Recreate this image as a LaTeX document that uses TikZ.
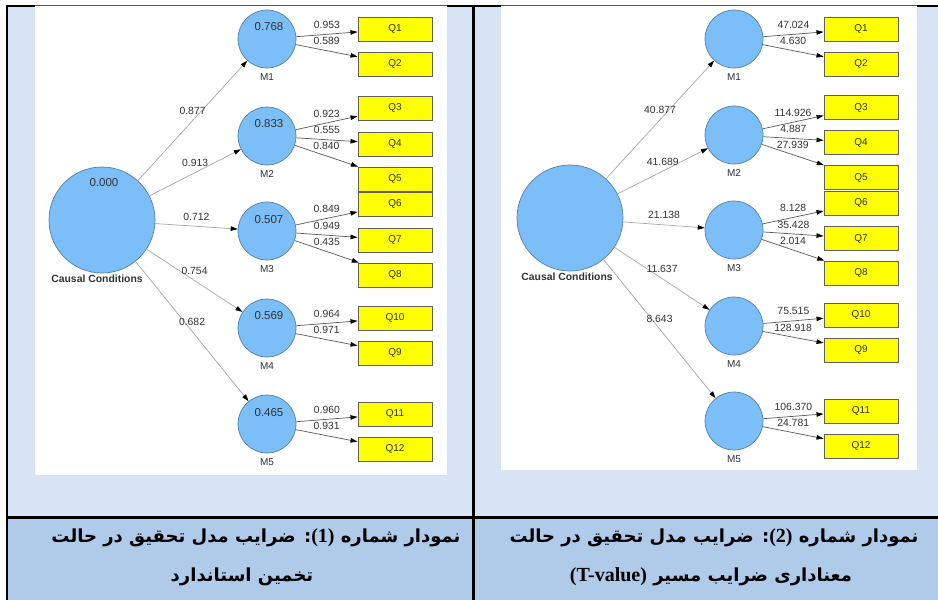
\documentclass[tikz,border=0pt]{standalone}
\usepackage{fontspec}
\setmainfont{Liberation Sans}
\newfontfamily\arabicfont[Script=Arabic]{DejaVu Sans}
\newfontfamily\serifbold{Liberation Serif}
\TeXXeTstate=1
\usetikzlibrary{arrows.meta,calc}

\definecolor{cellblue}{HTML}{D6E4F3}
\definecolor{capblue}{HTML}{AFCBE9}
\definecolor{latent}{HTML}{7CBEF8}
\definecolor{latentedge}{HTML}{557FA8}
\definecolor{itemfill}{HTML}{FFFF00}
\definecolor{itemedge}{HTML}{606060}
\definecolor{labeltext}{HTML}{333333}
\definecolor{framegray}{HTML}{555A60}

\tikzset{
  latentbig/.style={circle, draw=latentedge, fill=latent, line width=0.7pt,
    minimum size=106pt, inner sep=0pt},
  latentsmall/.style={circle, draw=latentedge, fill=latent, line width=0.7pt,
    minimum size=58pt, inner sep=0pt},
  itembox/.style={rectangle, draw=itemedge, fill=itemfill, line width=0.9pt,
    minimum width=74pt, minimum height=24pt, inner sep=0pt,
    font=\fontsize{10}{12}\selectfont, text=labeltext},
  structpath/.style={draw=gray!70, line width=0.7pt,
    -{Triangle[length=7pt,width=4.5pt,color=black]}},
  measpath/.style={draw=black!65, line width=0.7pt,
    -{Triangle[length=7pt,width=4.5pt,color=black]}},
  coef/.style={above=5.5pt, inner sep=0pt, font=\fontsize{10.4}{12}\selectfont,
    text=labeltext},
  innerval/.style={inner sep=0pt, font=\fontsize{11.5}{13}\selectfont, text=labeltext},
  mtag/.style={inner sep=0pt, font=\fontsize{10}{12}\selectfont, text=labeltext},
  cctag/.style={inner sep=0pt, font=\bfseries\fontsize{10.4}{12}\selectfont, text=labeltext},
  captext/.style={inner sep=0pt, font=\arabicfont\bfseries\fontsize{18}{21}\selectfont},
  diagram/.style={fill=white},
}

\begin{document}
\begin{tikzpicture}[x=1pt,y=-1pt]
\useasboundingbox (0,0) rectangle (938,600);

% table cells
\fill[cellblue] (8,6) rectangle (938,517);
\fill[capblue] (8,517) rectangle (938,600);
\draw[black, line width=2pt] (7,5.5) -- (938,5.5);

% pasted diagram areas
\fill[diagram] (35,5) rectangle (447,475);
\fill[diagram] (501,5) rectangle (917,470);
\draw[framegray, line width=1.3pt] (35,5.5) -- (447,5.5);
\draw[framegray, line width=1.3pt] (501,5.5) -- (917,5.5);

% table rules
\draw[black, line width=2.5pt] (7,4.5) -- (7,600);
\draw[black, line width=3pt] (473.8,4.5) -- (473.8,600);
\draw[black, line width=2.7pt] (7,517.3) -- (938,517.3);

% ---------- standardised estimates ----------
\node[latentbig] (LCC) at (102,220) {};
\node[innerval] (LCCv) at (104,183) {0.000};
\node[cctag] (LCCt) at (97,279) {Causal Conditions};

\node[latentsmall] (LM1) at (267,39) {};
\node[latentsmall] (LM2) at (267,136) {};
\node[latentsmall] (LM3) at (267,231) {};
\node[latentsmall] (LM4) at (267,328) {};
\node[latentsmall] (LM5) at (267,424) {};
\node[innerval] (LM1v) at (269,27) {0.768};
\node[innerval] (LM2v) at (269,124) {0.833};
\node[innerval] (LM3v) at (269,220) {0.507};
\node[innerval] (LM4v) at (269,316) {0.569};
\node[innerval] (LM5v) at (269,413) {0.465};
\node[mtag] (LM1t) at (267,77) {M1};
\node[mtag] (LM2t) at (267,174) {M2};
\node[mtag] (LM3t) at (267,269) {M3};
\node[mtag] (LM4t) at (267,366) {M4};
\node[mtag] (LM5t) at (267,462) {M5};

\node[itembox] (LQ1) at (395,29) {Q1};
\node[itembox] (LQ2) at (395,64) {Q2};
\node[itembox] (LQ3) at (395,108) {Q3};
\node[itembox] (LQ4) at (395,144) {Q4};
\node[itembox] (LQ5) at (395,179) {Q5};
\node[itembox] (LQ6) at (395,204) {Q6};
\node[itembox] (LQ7) at (395,240) {Q7};
\node[itembox] (LQ8) at (395,275) {Q8};
\node[itembox] (LQ10) at (395,318) {Q10};
\node[itembox] (LQ9) at (395,353) {Q9};
\node[itembox] (LQ11) at (395,414) {Q11};
\node[itembox] (LQ12) at (395,449) {Q12};

\draw[structpath] (LCC) -- node[coef] {0.877} (LM1);
\draw[structpath] (LCC) -- node[coef] {0.913} (LM2);
\draw[structpath] (LCC) -- node[coef] {0.712} (LM3);
\draw[structpath] (LCC) -- node[coef] {0.754} (LM4);
\draw[structpath] (LCC) -- node[coef] {0.682} (LM5);

\draw[measpath] (LM1) -- node[coef] {0.953} (LQ1);
\draw[measpath] (LM1) -- node[coef] {0.589} (LQ2);
\draw[measpath] (LM2) -- node[coef] {0.923} (LQ3);
\draw[measpath] (LM2) -- node[coef] {0.555} (LQ4);
\draw[measpath] (LM2) -- node[coef] {0.840} (LQ5);
\draw[measpath] (LM3) -- node[coef] {0.849} (LQ6);
\draw[measpath] (LM3) -- node[coef] {0.949} (LQ7);
\draw[measpath] (LM3) -- node[coef] {0.435} (LQ8);
\draw[measpath] (LM4) -- node[coef] {0.964} (LQ10);
\draw[measpath] (LM4) -- node[coef] {0.971} (LQ9);
\draw[measpath] (LM5) -- node[coef] {0.960} (LQ11);
\draw[measpath] (LM5) -- node[coef] {0.931} (LQ12);

% ---------- t-values ----------
\begin{scope}[shift={(467,-2)}]
\node[latentbig] (RCC) at (103,220) {};
\node[cctag] (RCCt) at (100,279) {Causal Conditions};

\node[latentsmall] (RM1) at (267,41) {};
\node[latentsmall] (RM2) at (267,137) {};
\node[latentsmall] (RM3) at (267,232) {};
\node[latentsmall] (RM4) at (267,328) {};
\node[latentsmall] (RM5) at (267,423) {};
\node[mtag] (RM1t) at (267,79) {M1};
\node[mtag] (RM2t) at (267,175) {M2};
\node[mtag] (RM3t) at (267,270) {M3};
\node[mtag] (RM4t) at (267,366) {M4};
\node[mtag] (RM5t) at (267,461) {M5};

\node[itembox] (RQ1) at (394,31) {Q1};
\node[itembox] (RQ2) at (394,66) {Q2};
\node[itembox] (RQ3) at (394,109.5) {Q3};
\node[itembox] (RQ4) at (394,144.5) {Q4};
\node[itembox] (RQ5) at (394,179.5) {Q5};
\node[itembox] (RQ6) at (394,205) {Q6};
\node[itembox] (RQ7) at (394,240.5) {Q7};
\node[itembox] (RQ8) at (394,275) {Q8};
\node[itembox] (RQ10) at (394,317) {Q10};
\node[itembox] (RQ9) at (394,352) {Q9};
\node[itembox] (RQ11) at (394,413) {Q11};
\node[itembox] (RQ12) at (394,448) {Q12};

\draw[structpath] (RCC) -- node[coef] {40.877} (RM1);
\draw[structpath] (RCC) -- node[coef] {41.689} (RM2);
\draw[structpath] (RCC) -- node[coef] {21.138} (RM3);
\draw[structpath] (RCC) -- node[coef] {11.637} (RM4);
\draw[structpath] (RCC) -- node[coef] {8.643} (RM5);

\draw[measpath] (RM1) -- node[coef] {47.024} (RQ1);
\draw[measpath] (RM1) -- node[coef] {4.630} (RQ2);
\draw[measpath] (RM2) -- node[coef] {114.926} (RQ3);
\draw[measpath] (RM2) -- node[coef] {4.887} (RQ4);
\draw[measpath] (RM2) -- node[coef] {27.939} (RQ5);
\draw[measpath] (RM3) -- node[coef] {8.128} (RQ6);
\draw[measpath] (RM3) -- node[coef] {35.428} (RQ7);
\draw[measpath] (RM3) -- node[coef] {2.014} (RQ8);
\draw[measpath] (RM4) -- node[coef] {75.515} (RQ10);
\draw[measpath] (RM4) -- node[coef] {128.918} (RQ9);
\draw[measpath] (RM5) -- node[coef] {106.370} (RQ11);
\draw[measpath] (RM5) -- node[coef] {24.781} (RQ12);
\end{scope}

% ---------- captions ----------
\node[captext] (capL1) at (256,538)
  {\beginR نمودار شماره \beginL{\serifbold\fontsize{20}{22}\selectfont(1)}\endL{}: ضرایب مدل تحقیق در حالت\endR};
\node[captext] (capL2) at (242,577)
  {\beginR تخمین استاندارد\endR};
\node[captext] (capR1) at (714,538)
  {\beginR نمودار شماره \beginL{\serifbold\fontsize{20}{22}\selectfont(2)}\endL{}: ضرایب مدل تحقیق در حالت\endR};
\node[captext] (capR2) at (711,577)
  {\beginR معناداری ضرایب مسیر \beginL{\serifbold\fontsize{20}{22}\selectfont(T-value)}\endL\endR};
\end{tikzpicture}
\end{document}
